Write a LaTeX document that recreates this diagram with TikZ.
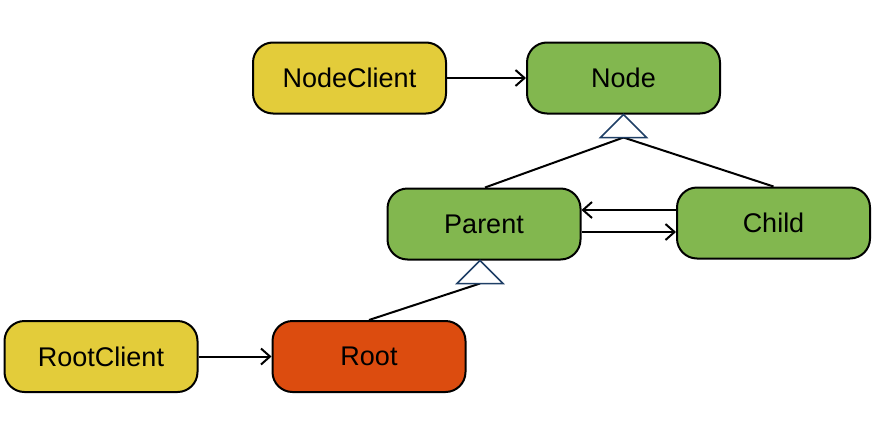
\documentclass[tikz,border=0pt]{standalone}
\usepackage{fontspec}
\setmainfont{Liberation Sans}
\usetikzlibrary{arrows.meta,calc}
\definecolor{cyel}{HTML}{E3CC3A}
\definecolor{cgrn}{HTML}{82B74F}
\definecolor{cred}{HTML}{DC4C0F}
\definecolor{ctri}{HTML}{1F3F66}
\tikzset{
  cls/.style={draw=black, line width=2pt, rounded corners=20pt, minimum width=193pt, minimum height=71pt, inner sep=0pt, font=\fontsize{27}{30}\selectfont},
  conn/.style={line width=2pt, -{Straight Barb[length=9pt,width=16pt,line width=2pt]}},
  gen/.style={line width=2pt},
  tri/.style={draw=ctri, fill=white, line width=1.5pt, line join=miter},
}
\begin{document}
\begin{tikzpicture}[x=1pt,y=-1pt]
\useasboundingbox (0,0) rectangle (890,423);
\node[cls, fill=cyel] (nc) at (349.5,78) {NodeClient};
\node[cls, fill=cgrn] (node) at (623.5,78) {Node};
\node[cls, fill=cgrn] (parent) at (484,224) {Parent};
\node[cls, fill=cgrn] (child) at (773.5,223) {Child};
\node[cls, fill=cyel] (rc) at (101,356.5) {RootClient};
\node[cls, fill=cred] (root) at (369,356.5) {Root};
% generalization triangles
\coordinate (t1a) at (node.south);
\coordinate (t1b) at ($(t1a)+(0,23)$);
\coordinate (t2a) at ($(parent.south)+(-4,0)$);
\coordinate (t2b) at ($(t2a)+(0,23)$);
\draw[gen] (t1b) -- ($(parent.north)+(1,0)$);
\draw[gen] (t1b) -- ($(child.north)+(0,0)$);
\draw[gen] (t2b) -- ($(root.north)+(0,0)$);
\draw[tri] (t1a) -- ($(t1a)+(-23,23)$) -- ($(t1a)+(23,23)$) -- cycle;
\draw[tri] (t2a) -- ($(t2a)+(-23,23)$) -- ($(t2a)+(23,23)$) -- cycle;
% associations
\draw[conn] (nc.east) -- (node.west);
\draw[conn] (rc.east) -- (root.west);
\draw[conn] ($(child.west)+(0,-13)$) -- ($(parent.east)+(0,-14)$);
\draw[conn] ($(parent.east)+(0,8)$) -- ($(child.west)+(0,9)$);
\end{tikzpicture}
\end{document}
